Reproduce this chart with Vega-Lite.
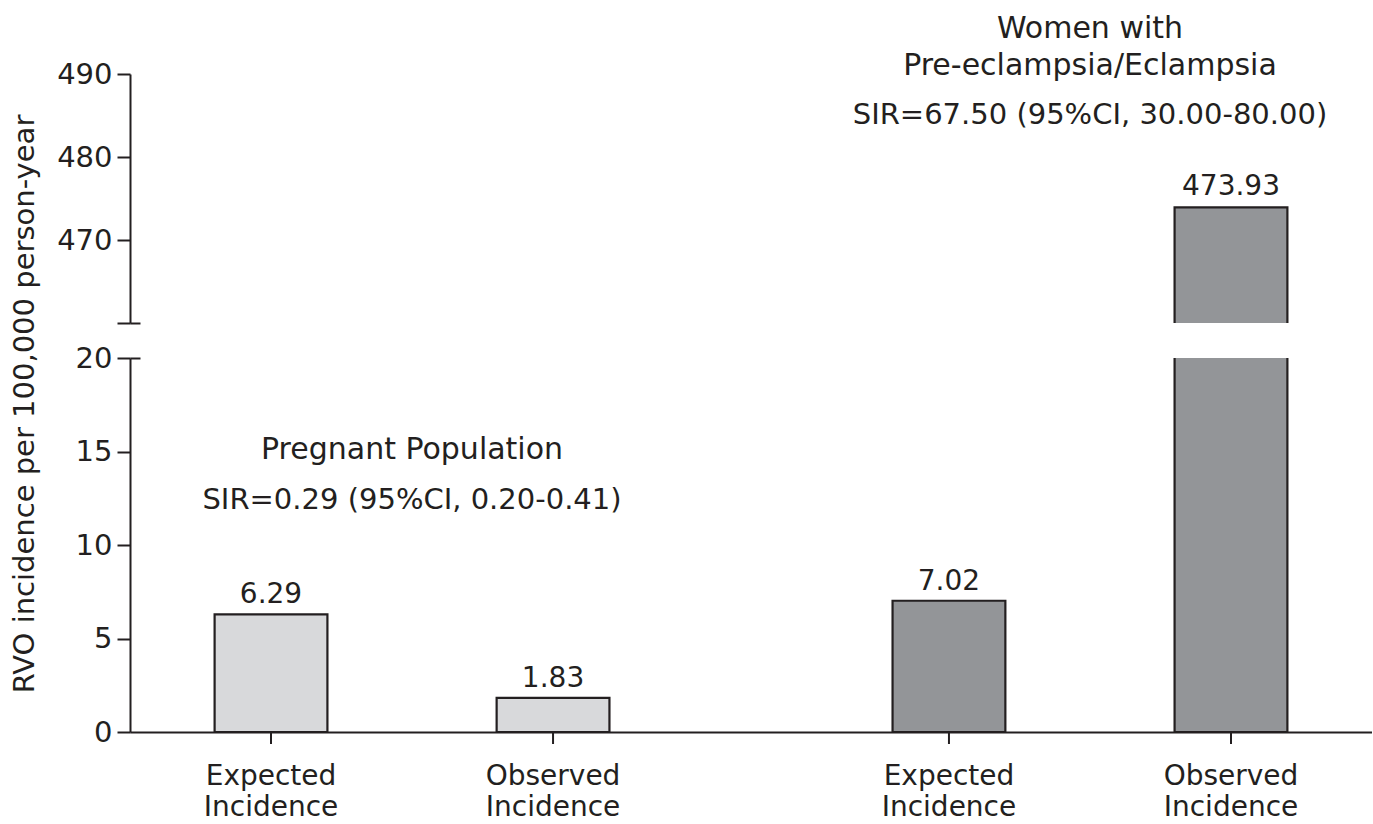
{
  "$schema": "https://vega.github.io/schema/vega-lite/v6.json",
  "background": "white",
  "padding": {"left": 9, "right": 0, "top": 14, "bottom": 0},
  "spacing": 35,
  "bounds": "flush",
  "config": {
    "view": {"stroke": null},
    "font": "DejaVu Sans",
    "text": {"font": "DejaVu Sans", "color": "#231f20"},
    "axis": {
      "domainColor": "#231f20", "domainWidth": 2,
      "tickColor": "#231f20", "tickWidth": 2, "tickSize": 13,
      "labelFont": "DejaVu Sans", "labelFontSize": 29, "labelColor": "#231f20", "labelPadding": 5,
      "grid": false,
      "titleFont": "DejaVu Sans", "titleFontSize": 29, "titleFontWeight": "normal", "titleColor": "#231f20"
    }
  },
  "datasets": {
    "bars": [
      {"group": "Pregnant Population", "type": "Expected Incidence", "incidence": 6.29},
      {"group": "Pregnant Population", "type": "Observed Incidence", "incidence": 1.83},
      {"group": "Women with Pre-eclampsia/Eclampsia", "type": "Expected Incidence", "incidence": 7.02},
      {"group": "Women with Pre-eclampsia/Eclampsia", "type": "Observed Incidence", "incidence": 473.93}
    ],
    "notes": [
      {"group": "Pregnant Population", "title": "Pregnant Population", "sir": "SIR=0.29 (95%CI, 0.20-0.41)"},
      {"group": "Women with Pre-eclampsia/Eclampsia", "title": "Women with\nPre-eclampsia/Eclampsia", "sir": "SIR=67.50 (95%CI, 30.00-80.00)"}
    ]
  },
  "vconcat": [
    {
      "width": 1242,
      "height": 249,
      "resolve": {"scale": {"y": "shared"}, "axis": {"y": "independent"}},
      "layer": [
        {
          "data": {"name": "bars"},
          "mark": {"type": "bar", "clip": true, "stroke": "#231f20", "strokeWidth": 2.2},
          "encoding": {
            "x": {"field": "group", "type": "nominal", "sort": null, "scale": {"paddingInner": 0.168, "paddingOuter": 0}, "axis": null},
            "xOffset": {"field": "type", "type": "nominal", "sort": null, "scale": {"paddingInner": 0.6, "paddingOuter": 0.3}},
            "y": {"field": "incidence", "type": "quantitative", "scale": {"domain": [460, 490]},
                  "axis": {"values": [460, 470, 480, 490], "labelExpr": "datum.value == 460 ? '' : datum.label", "title": null}},
            "y2": {"datum": 0},
            "color": {"field": "group", "type": "nominal", "scale": {"domain": ["Pregnant Population", "Women with Pre-eclampsia/Eclampsia"], "range": ["#d8d9db", "#939598"]}, "legend": null}
          }
        },
        {
          "data": {"name": "bars"},
          "transform": [{"filter": "datum.incidence > 460"}],
          "mark": {"type": "text", "fontSize": 28, "baseline": "alphabetic", "dy": -12},
          "encoding": {
            "x": {"field": "group", "type": "nominal", "sort": null},
            "xOffset": {"field": "type", "type": "nominal", "sort": null},
            "y": {"field": "incidence", "type": "quantitative",
                  "axis": {"values": [460], "tickSize": -10, "labels": false, "domain": false, "title": null, "orient": "left"}},
            "text": {"field": "incidence", "type": "quantitative", "format": ".2f"}
          }
        },
        {
          "data": {"name": "notes"},
          "transform": [{"filter": "datum.group != 'Pregnant Population'"}],
          "mark": {"type": "text", "fontSize": 30, "baseline": "alphabetic", "lineBreak": "\n", "lineHeight": 37},
          "encoding": {
            "x": {"field": "group", "type": "nominal", "sort": null},
            "y": {"datum": 494.3, "type": "quantitative", "axis": null},
            "text": {"field": "title"}
          }
        },
        {
          "data": {"name": "notes"},
          "transform": [{"filter": "datum.group != 'Pregnant Population'"}],
          "mark": {"type": "text", "fontSize": 29, "baseline": "alphabetic"},
          "encoding": {
            "x": {"field": "group", "type": "nominal", "sort": null},
            "y": {"datum": 484, "type": "quantitative", "axis": null},
            "text": {"field": "sir"}
          }
        }
      ]
    },
    {
      "width": 1242,
      "height": 374,
      "resolve": {"scale": {"y": "shared"}, "axis": {"y": "independent"}},
      "layer": [
        {
          "data": {"name": "bars"},
          "mark": {"type": "bar", "clip": true, "stroke": "#231f20", "strokeWidth": 2.2},
          "encoding": {
            "x": {"field": "group", "type": "nominal", "sort": null, "scale": {"paddingInner": 0.168, "paddingOuter": 0},
                  "axis": {"title": null, "labels": false, "ticks": false, "domain": true}},
            "xOffset": {"field": "type", "type": "nominal", "sort": null, "scale": {"paddingInner": 0.6, "paddingOuter": 0.3}},
            "y": {"field": "incidence", "type": "quantitative", "scale": {"domain": [0, 20]},
                  "axis": {"values": [0, 5, 10, 15, 20], "title": "RVO incidence per 100,000 person-year",
                           "titleX": -91, "titleY": 45.5, "titleAlign": "center", "titleBaseline": "bottom", "titleAngle": -90}},
            "color": {"field": "group", "type": "nominal", "scale": {"domain": ["Pregnant Population", "Women with Pre-eclampsia/Eclampsia"], "range": ["#d8d9db", "#939598"]}, "legend": null}
          }
        },
        {
          "data": {"name": "bars"},
          "transform": [{"filter": "datum.incidence < 20"}],
          "mark": {"type": "text", "fontSize": 28, "baseline": "alphabetic", "dy": -11},
          "encoding": {
            "x": {"field": "group", "type": "nominal", "sort": null},
            "xOffset": {"field": "type", "type": "nominal", "sort": null},
            "y": {"field": "incidence", "type": "quantitative",
                  "axis": {"values": [20], "tickSize": -10, "labels": false, "domain": false, "title": null, "orient": "left"}},
            "text": {"field": "incidence", "type": "quantitative", "format": ".2f"}
          }
        },
        {
          "data": {"name": "bars"},
          "mark": {"type": "rule", "color": "#231f20", "strokeWidth": 2, "y2Offset": 12},
          "encoding": {
            "x": {"field": "group", "type": "nominal", "sort": null},
            "xOffset": {"field": "type", "type": "nominal", "sort": null},
            "y": {"datum": 0, "type": "quantitative", "axis": null},
            "y2": {"datum": 0}
          }
        },
        {
          "data": {"name": "bars"},
          "mark": {"type": "text", "fontSize": 28, "baseline": "alphabetic", "dy": 53, "lineBreak": " ", "lineHeight": 31},
          "encoding": {
            "x": {"field": "group", "type": "nominal", "sort": null},
            "xOffset": {"field": "type", "type": "nominal", "sort": null},
            "y": {"datum": 0, "type": "quantitative", "axis": null},
            "text": {"field": "type"}
          }
        },
        {
          "data": {"name": "notes"},
          "transform": [{"filter": "datum.group == 'Pregnant Population'"}],
          "mark": {"type": "text", "fontSize": 30, "baseline": "alphabetic"},
          "encoding": {
            "x": {"field": "group", "type": "nominal", "sort": null},
            "y": {"datum": 14.62, "type": "quantitative", "axis": null},
            "text": {"field": "title"}
          }
        },
        {
          "data": {"name": "notes"},
          "transform": [{"filter": "datum.group == 'Pregnant Population'"}],
          "mark": {"type": "text", "fontSize": 29, "baseline": "alphabetic"},
          "encoding": {
            "x": {"field": "group", "type": "nominal", "sort": null},
            "y": {"datum": 11.95, "type": "quantitative", "axis": null},
            "text": {"field": "sir"}
          }
        }
      ]
    }
  ]
}
